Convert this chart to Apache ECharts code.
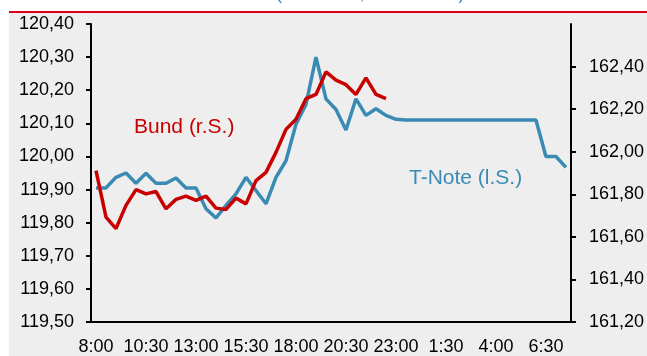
<!DOCTYPE html>
<html>
<head>
<meta charset="utf-8">
<script src="https://cdn.jsdelivr.net/npm/echarts@6/dist/echarts.min.js"></script>
<style>
  html, body { margin: 0; padding: 0; background: #fff; }
  #chart { width: 647px; height: 356px; }
</style>
</head>
<body>
<div id="chart"></div>
<script>
// Zeitachse: 30-Minuten-Schritte, 8:00 bis 7:30 am Folgetag
const times = [
  '8:00', '8:30', '9:00', '9:30', '10:00', '10:30', '11:00', '11:30',
  '12:00', '12:30', '13:00', '13:30', '14:00', '14:30', '15:00', '15:30',
  '16:00', '16:30', '17:00', '17:30', '18:00', '18:30', '19:00', '19:30',
  '20:00', '20:30', '21:00', '21:30', '22:00', '22:30', '23:00', '23:30',
  '0:00', '0:30', '1:00', '1:30', '2:00', '2:30', '3:00', '3:30',
  '4:00', '4:30', '5:00', '5:30', '6:00', '6:30', '7:00', '7:30'
]

// T-Note (linke Skala)
const tnote = [
  119.905, 119.905, 119.937, 119.95, 119.919, 119.949, 119.919, 119.919,
  119.935, 119.905, 119.905, 119.842, 119.814, 119.852, 119.887, 119.937,
  119.897, 119.857, 119.937, 119.987, 120.097, 120.157, 120.30, 120.174,
  120.142, 120.08, 120.174, 120.124, 120.144, 120.124, 120.112, 120.11,
  120.11, 120.11, 120.11, 120.11, 120.11, 120.11, 120.11, 120.11,
  120.11, 120.11, 120.11, 120.11, 120.11, 120.00, 120.00, 119.967
]

// Bund (rechte Skala), endet um 22:30
const bund = [
  161.911, 161.693, 161.639, 161.748, 161.822, 161.802, 161.813, 161.732,
  161.776, 161.791, 161.771, 161.791, 161.735, 161.729, 161.782, 161.755,
  161.864, 161.903, 161.997, 162.105, 162.152, 162.249, 162.269, 162.375,
  162.336, 162.315, 162.269, 162.347, 162.269, 162.249, null, null,
  null, null, null, null, null, null, null, null,
  null, null, null, null, null, null, null, null
]

const rightTicks = [161.2, 161.4, 161.6, 161.8, 162.0, 162.2, 162.4]

const blue = '#3a8bb4'
const red = '#c90000'
const font = 'Liberation Sans, Arial, sans-serif'
const fmt = v => v.toFixed(2).replace('.', ',')

const chart = echarts.init(document.getElementById('chart'))

chart.setOption({
  animation: false,
  backgroundColor: '#ffffff',
  textStyle: { fontFamily: font },
  graphic: [
    { type: 'rect', z: -10, shape: { x: 9, y: 13, width: 638, height: 343 }, style: { fill: '#eeeeee' } },
    { type: 'rect', z: -9, shape: { x: 9, y: 11, width: 638, height: 2 }, style: { fill: '#d9001b' } },
    {
      type: 'text', left: 26, top: -15,
      style: { text: 'Bund-Future vs. T-Note-Future (Tickdaten, 30 Minuten)', fill: blue, font: '18px ' + font }
    },
    {
      type: 'text', left: 134, top: 117,
      style: { text: 'Bund (r.S.)', fill: red, font: '21px ' + font }
    },
    {
      type: 'text', left: 409, top: 168,
      style: { text: 'T-Note (l.S.)', fill: blue, font: '21px ' + font }
    }
  ],
  grid: { left: 91, right: 76, top: 24, bottom: 32 },
  xAxis: {
    type: 'category',
    data: times,
    boundaryGap: true,
    axisLine: { lineStyle: { color: '#000', width: 2 } },
    axisTick: { interval: 4, length: 5, lineStyle: { color: '#000', width: 2 } },
    axisLabel: { interval: 4, color: '#000', fontSize: 18, margin: 16 }
  },
  yAxis: [
    {
      type: 'value',
      position: 'left',
      min: 119.5,
      max: 120.4,
      interval: 0.1,
      axisLine: { show: true, lineStyle: { color: '#000', width: 2 } },
      axisTick: { show: true, length: 5, lineStyle: { color: '#000', width: 2 } },
      axisLabel: { color: '#000', fontSize: 18, margin: 17, formatter: fmt },
      splitLine: { show: false }
    },
    {
      type: 'value',
      position: 'right',
      min: 161.2,
      max: 162.6,
      interval: 0.2,
      axisLine: { show: true, lineStyle: { color: '#000', width: 2 } },
      axisTick: { show: true, length: 5, customValues: rightTicks, lineStyle: { color: '#000', width: 2 } },
      axisLabel: { color: '#000', fontSize: 18, margin: 18, customValues: rightTicks, formatter: fmt },
      splitLine: { show: false }
    }
  ],
  series: [
    {
      name: 'T-Note',
      type: 'line',
      yAxisIndex: 0,
      data: tnote,
      symbol: 'none',
      lineStyle: { color: blue, width: 3.5 },
      z: 2
    },
    {
      name: 'Bund',
      type: 'line',
      yAxisIndex: 1,
      data: bund,
      symbol: 'none',
      connectNulls: false,
      lineStyle: { color: red, width: 3.5 },
      z: 3
    }
  ]
})
</script>
</body>
</html>
